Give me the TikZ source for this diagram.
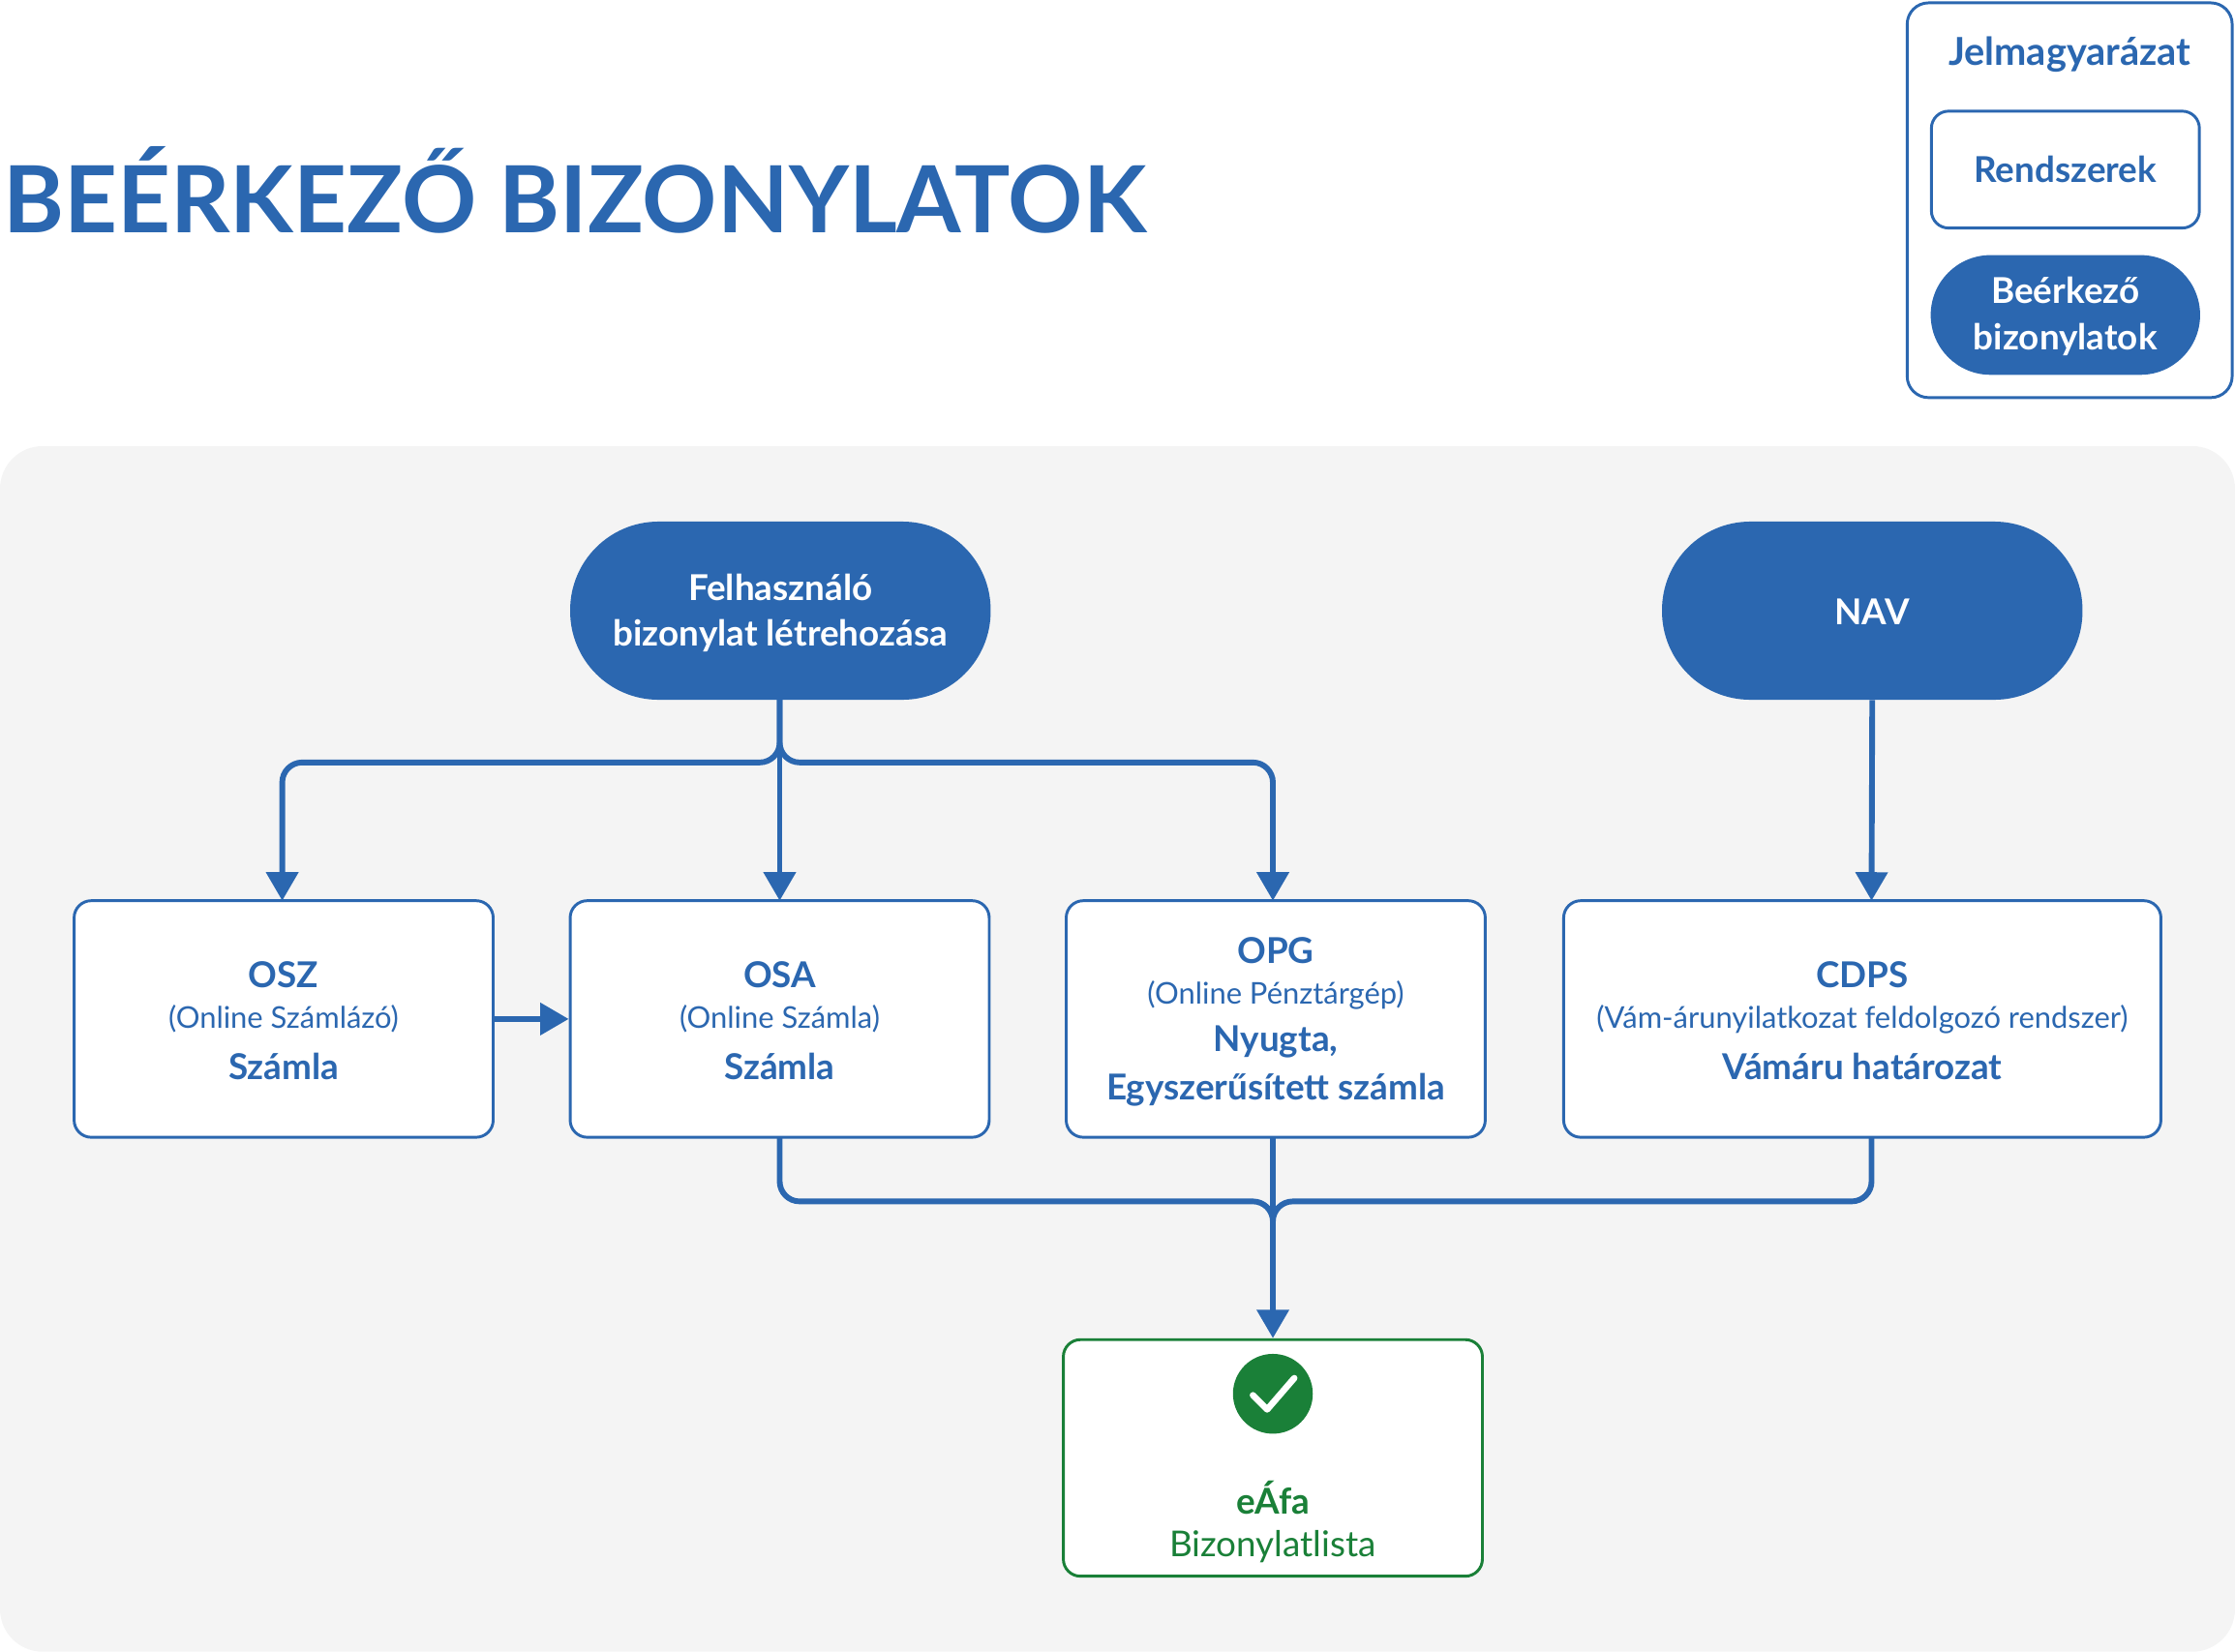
\documentclass[tikz,border=0pt]{standalone}
\usepackage{fontspec}
\setmainfont{Lato}
\usetikzlibrary{arrows.meta}
\definecolor{nblue}{HTML}{2B67B0}
\definecolor{ngreen}{HTML}{1A8038}
\definecolor{bggray}{HTML}{F4F4F4}
\tikzset{
 sysbox/.style={draw=nblue,line width=2pt,fill=white,rounded corners=12pt,inner sep=0pt},
 pill/.style={fill=nblue,rounded corners=62pt,inner sep=0pt},
 conn/.style={draw=nblue,line width=4pt,rounded corners=14pt},
 arr/.style={conn,-{Triangle[length=20pt,width=22pt]}},
 bt/.style={text=nblue,font=\fontsize{25}{30}\selectfont\bfseries,inner sep=0pt},
 st/.style={text=nblue,font=\fontsize{21}{25}\selectfont,inner sep=0pt},
 wt/.style={text=white,font=\fontsize{25}{30}\selectfont\bfseries,inner sep=0pt},
}
\begin{document}
\begin{tikzpicture}[x=1pt,y=-1pt]
\useasboundingbox (0,0) rectangle (1568,1159);
\fill[bggray,rounded corners=30pt] (0,313) rectangle (1568,1159);
\node[anchor=base west,text=nblue,font=\fontsize{65}{70}\selectfont\bfseries,inner sep=0pt] (title) at (2,163) {BEÉRKEZŐ BIZONYLATOK};
% legend
\draw[nblue,line width=2pt,rounded corners=15pt] (1338,2) rectangle (1566,279);
\node[bt,font=\fontsize{27}{30}\selectfont\bfseries] (lt) at (1452,38) {Jelmagyarázat};
\node[sysbox,minimum width=188pt,minimum height=82pt] (lr) at (1449,119) {};
\node[bt] (lrt) at (1449,119) {Rendszerek};
\node[pill,minimum width=189pt,minimum height=84pt,rounded corners=42pt] (lb) at (1449,221) {};
\node[wt] (lb1) at (1449,204) {Beérkező};
\node[wt] (lb2) at (1449,238) {bizonylatok};
% pills
\node[pill,minimum width=295pt,minimum height=125pt] (felh) at (547.5,428.5) {};
\node[wt] (f1) at (547.5,412) {Felhasználó};
\node[wt] (f2) at (547.5,446) {bizonylat létrehozása};
\node[pill,minimum width=295pt,minimum height=125pt] (nav) at (1313.5,428.5) {};
\node[wt] (navt) at (1313.5,429) {NAV};
% boxes
\node[sysbox,minimum width=294pt,minimum height=166pt] (osz) at (199,715) {};
\node[bt] at (199,684) {OSZ};
\node[st] at (199,715) {(Online Számlázó)};
\node[bt] at (199,748) {Számla};
\node[sysbox,minimum width=294pt,minimum height=166pt] (osa) at (547,715) {};
\node[bt] at (547,684) {OSA};
\node[st] at (547,715) {(Online Számla)};
\node[bt] at (547,748) {Számla};
\node[sysbox,minimum width=294pt,minimum height=166pt] (opg) at (895,715) {};
\node[bt] at (895,667) {OPG};
\node[st] at (895,698) {(Online Pénztárgép)};
\node[bt] at (895,731) {Nyugta,};
\node[bt] at (895,765) {Egyszerűsített számla};
\node[sysbox,minimum width=419pt,minimum height=166pt] (cdps) at (1306.5,715) {};
\node[bt] at (1306.5,684) {CDPS};
\node[st] at (1306.5,715) {(Vám-árunyilatkozat feldolgozó rendszer)};
\node[bt] at (1306.5,748) {Vámáru határozat};
\node[sysbox,draw=ngreen,minimum width=294pt,minimum height=166pt] (eafa) at (893,1023) {};
\node[bt,text=ngreen] at (893,1051) {eÁfa};
\node[bt,text=ngreen,font=\fontsize{25}{30}\selectfont] at (893,1085) {Bizonylatlista};
\fill[ngreen] (893,978) circle (28pt);
\draw[white,line width=4.5pt,line cap=round,line join=round] (879,979) -- (889,989) -- (908,967);
% connectors
\coordinate (fb) at (547,491);
\draw[arr] (fb) -- (547,535) -- (198,535) -- (198,632);
\draw[arr] (fb) -- (547,632);
\draw[arr] (fb) -- (547,535) -- (893,535) -- (893,632);
\draw[arr] (nav.south) -- (1313,632);
\draw[arr] (osz.east) -- (osa.west);
\draw[conn] (547,798) -- (547,843) -- (893,843) -- (893,880);
\draw[conn] (1313,798) -- (1313,843) -- (893,843) -- (893,880);
\draw[arr] (893,798) -- (eafa.north);
\end{tikzpicture}
\end{document}
